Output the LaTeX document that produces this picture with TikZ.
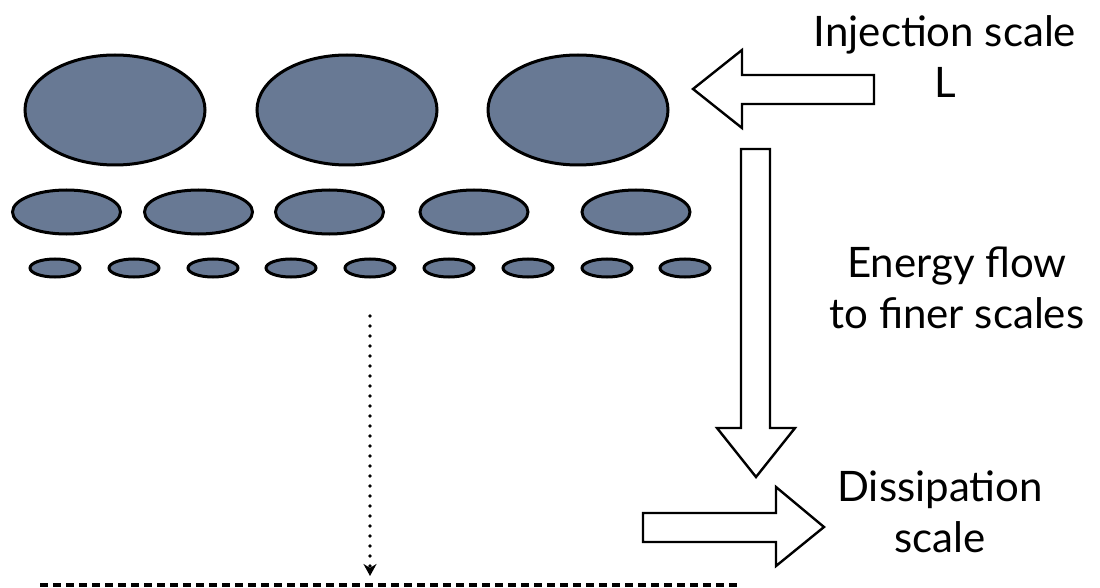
\documentclass[tikz,border=0pt]{standalone}
\usepackage{fontspec}
\setmainfont{Lato}
\usetikzlibrary{arrows.meta}
\definecolor{slate}{RGB}{104,121,148}
\tikzset{
  blob/.style={draw=black, line width=3pt, fill=slate},
  blockarrow/.style={draw=black, line width=2.4pt, fill=white, line join=miter},
  lbl/.style={font=\fontsize{42}{51}\selectfont, align=center, inner sep=0pt},
}
\begin{document}
\begin{tikzpicture}[x=1pt, y=-1pt]
\useasboundingbox (0,0) rectangle (1100,588);
% big eddies
\foreach \i/\cx in {1/115, 2/347, 3/578}
  \draw[blob] (\cx,110) ellipse [x radius=90, y radius=55];
% medium eddies
\foreach \i/\cx in {1/66.5, 2/198.5, 3/329.5, 4/474, 5/636}
  \draw[blob] (\cx,212) ellipse [x radius=54, y radius=22];
% small eddies
\foreach \i/\cx in {1/55, 2/134, 3/213, 4/291, 5/370, 6/449, 7/528, 8/607, 9/685}
  \draw[blob] (\cx,268) ellipse [x radius=25, y radius=9];
% injection arrow (left)
\draw[blockarrow] (874,75) -- (742,75) -- (742,50) -- (693,89) -- (742,128) -- (742,104) -- (874,104) -- cycle;
% energy flow arrow (down)
\draw[blockarrow] (741,149) -- (770,149) -- (770,428) -- (795,428) -- (756,477) -- (717,428) -- (741,428) -- cycle;
% dissipation arrow (right)
\draw[blockarrow] (643,513) -- (776,513) -- (776,487) -- (824,527) -- (776,566) -- (776,542) -- (643,542) -- cycle;
% labels
\node[lbl] (inj) at (945,57) {Injection scale\\L};
\node[lbl] (flow) at (957,288) {Energy flow\\to finer scales};
\node[lbl] (diss) at (940,512) {Dissipation\\scale};
% dotted arrow and dashed line
\coordinate (dtop) at (370,316);
\coordinate (dbot) at (370,576);
\draw[line width=3.6pt, line cap=round, dash pattern=on 0pt off 10pt, -{Stealth[length=12pt,width=13pt,line cap=butt]}] (dtop) -- (dbot);
\coordinate (la) at (40,585);
\coordinate (lb) at (738,585);
\draw[line width=3.5pt, dash pattern=on 8pt off 5pt] (la) -- (lb);
\end{tikzpicture}
\end{document}
